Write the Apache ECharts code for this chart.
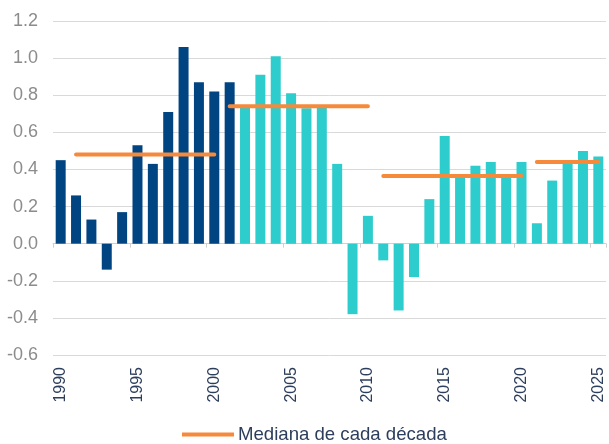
<!DOCTYPE html>
<html>
<head>
<meta charset="utf-8">
<script src="https://cdn.jsdelivr.net/npm/echarts@6/dist/echarts.min.js"></script>
<style>
  html, body { margin: 0; padding: 0; background: #fff; }
  #chart { width: 609px; height: 444px; }
</style>
</head>
<body>
<div id="chart"></div>
<script>
// años (categorías)
var years = ["1990", "1991", "1992", "1993", "1994", "1995", "1996", "1997", "1998", "1999",
  "2000", "2001", "2002", "2003", "2004", "2005", "2006", "2007", "2008", "2009",
  "2010", "2011", "2012", "2013", "2014", "2015", "2016", "2017", "2018", "2019",
  "2020", "2021", "2022", "2023", "2024", "2025"];

// valor anual
var values = [0.45, 0.26, 0.13, -0.14, 0.17, 0.53, 0.43, 0.71, 1.06, 0.87,
  0.82, 0.87, 0.74, 0.91, 1.01, 0.81, 0.73, 0.74, 0.43, -0.38,
  0.15, -0.09, -0.36, -0.18, 0.24, 0.58, 0.36, 0.42, 0.44, 0.37,
  0.44, 0.11, 0.34, 0.44, 0.50, 0.47];

// mediana de cada década (tramos)
var medianFrom = ["1991", "2001", "2011", "2021"];
var medianTo = ["2000", "2010", "2020", "2025"];
var medianValue = [0.48, 0.74, 0.365, 0.44];

var lastDarkYear = "2001";

var navy = "#004481";
var cyan = "#2DCCCD";
var orange = "#F7893B";
var legendName = "Mediana de cada década";

var barData = values.map(function (v, i) {
  return {
    value: v,
    itemStyle: { color: Number(years[i]) <= Number(lastDarkYear) ? navy : cyan }
  };
});

var medianSeries = medianFrom.map(function (from, k) {
  var a = years.indexOf(from);
  var b = years.indexOf(medianTo[k]);
  var data = years.map(function (y, i) {
    return i >= a && i <= b ? medianValue[k] : null;
  });
  return {
    name: legendName,
    type: "line",
    xAxisIndex: 0,
    data: data,
    color: orange,
    symbol: "none",
    lineStyle: { color: orange, width: 4, cap: "round" },
    z: 5,
    silent: true
  };
});

var chartDom = document.getElementById("chart");
var myChart = echarts.init(chartDom);
var option = {
  animation: false,
  grid: {
    left: 53,
    right: 3,
    top: 21,
    bottom: 89
  },
  legend: {
    data: [{ name: legendName, icon: "rect" }],
    left: 182,
    top: 425,
    padding: 0,
    itemWidth: 52,
    itemHeight: 4,
    itemGap: 10,
    textStyle: {
      fontFamily: "Liberation Sans",
      fontSize: 18.6,
      color: "#2c3e5c",
      padding: [0, 0, 0, -1]
    }
  },
  xAxis: [
    {
      type: "category",
      data: years,
      axisLine: { onZero: true, lineStyle: { color: "#d0d0d0", width: 1 } },
      axisTick: { show: true, interval: 4, length: 4, lineStyle: { color: "#d0d0d0" } },
      axisLabel: { show: false },
      splitLine: { show: false }
    },
    {
      type: "category",
      data: years,
      position: "bottom",
      axisLine: { show: false, onZero: false },
      axisTick: { show: false },
      axisLabel: {
        interval: 4,
        rotate: 90,
        margin: 12,
        fontFamily: "Liberation Sans",
        fontSize: 16,
        color: "#2c3e5c"
      }
    }
  ],
  yAxis: {
    type: "value",
    min: -0.6,
    max: 1.2,
    interval: 0.2,
    axisLine: { show: false },
    axisTick: { show: false },
    splitLine: { lineStyle: { color: "#d9d9d9", width: 1 } },
    axisLabel: {
      margin: 15,
      fontFamily: "Liberation Sans",
      fontSize: 18,
      color: "#8c8c8c",
      formatter: function (v) {
        return v.toFixed(1);
      }
    }
  },
  series: [
    {
      name: "Valor",
      type: "bar",
      xAxisIndex: 0,
      data: barData,
      barCategoryGap: "35%",
      z: 2
    }
  ].concat(medianSeries)
};

option && myChart.setOption(option);
</script>
</body>
</html>
